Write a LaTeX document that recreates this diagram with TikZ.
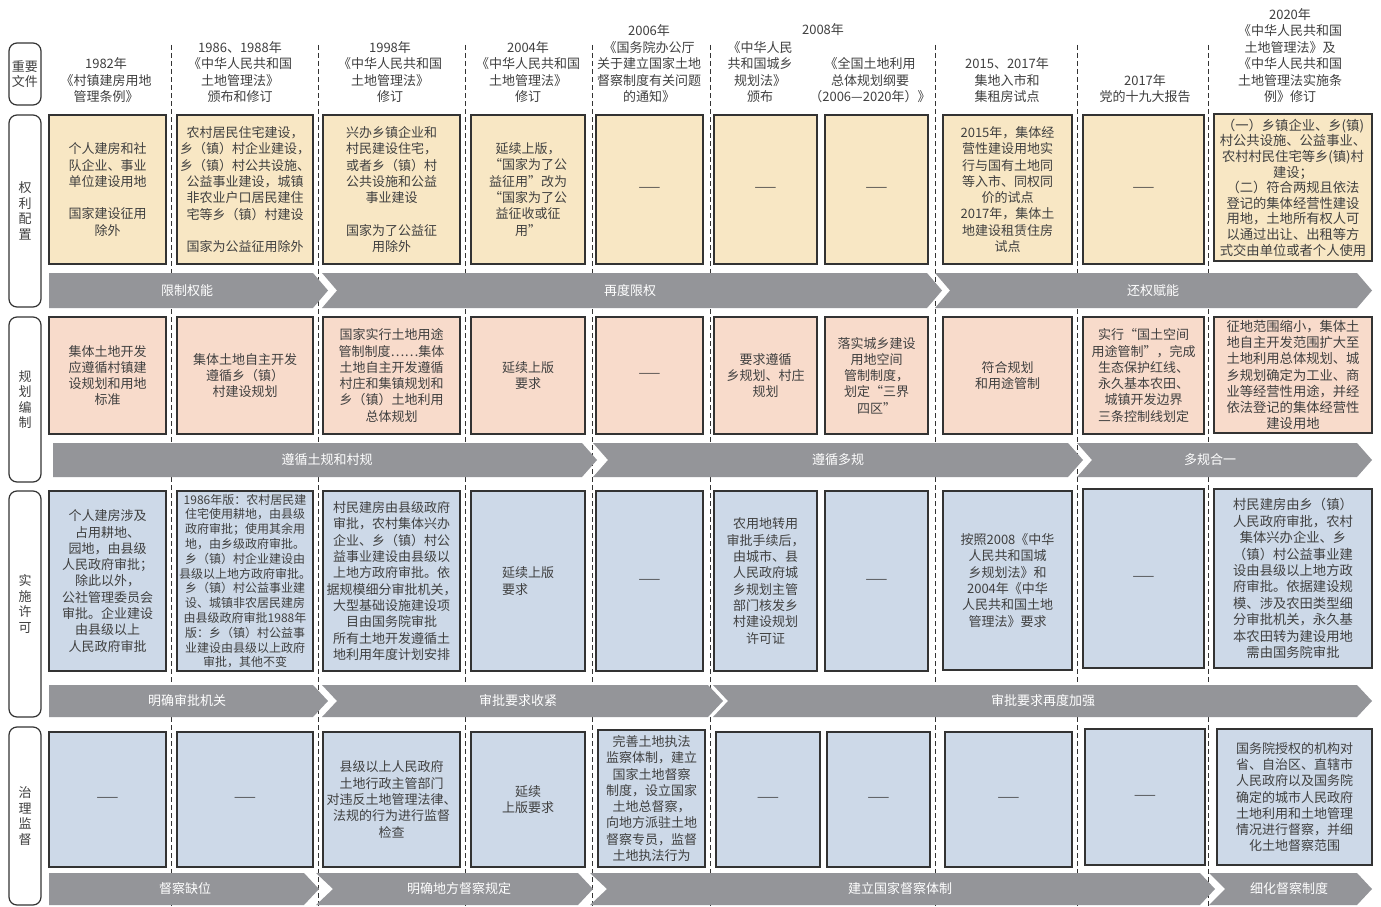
\documentclass[tikz,border=0pt]{standalone}
\usepackage{fontspec}
\setmainfont{Noto Sans CJK SC}
\definecolor{yel}{HTML}{F8E7C4}
\definecolor{pnk}{HTML}{F8DBCB}
\definecolor{blu}{HTML}{CDD9E8}
\definecolor{arrg}{HTML}{949599}
\definecolor{bdr}{HTML}{333333}
\definecolor{txt}{HTML}{404040}
\newcommand\fsz[2]{\fontsize{#1}{#2}\selectfont}
\newcommand\bx[8][]{%
  \pgfmathsetmacro\bxcx{(#3+#5)/2}%
  \pgfmathsetmacro\bxcy{(#4+#6)/2}%
  \pgfmathsetmacro\bxw{#5-#3}%
  \pgfmathsetmacro\bxh{#6-#4}%
  \node[box,fill=#7,minimum width=\bxw pt,minimum height=\bxh pt,#1] (#2) at (\bxcx,\bxcy) {#8};}
\newcommand\arr[8]{%
  \fill[arrg] (#2,#4) -- (#3,#4) -- ({#3+15},{(#4+#5)/2}) -- (#3,#5) -- (#2,#5) -- ({#2+#6},{(#4+#5)/2}) -- cycle;
  \node[arrlabel] (#1) at (#8,{(#4+#5)/2}) {#7};}
\newcommand\side[4]{%
  \pgfmathsetmacro\bxcy{(#2+#3)/2}%
  \pgfmathsetmacro\bxh{#3-#2}%
  \node[sidebox,minimum height=\bxh pt] (#1) at (25,\bxcy) {#4};}
\begin{document}
\begin{tikzpicture}[x=1pt,y=-1pt,
  box/.style={draw=bdr,line width=1.1pt,align=center,inner sep=1pt,text=txt,font=\fsz{13}{16.3}},
  arrlabel/.style={text=white,font=\fsz{13}{16}},
  sidebox/.style={draw=bdr,line width=1.2pt,rounded corners=8pt,minimum width=32pt,align=center,inner sep=0pt,text=txt,font=\fsz{13}{15.5}},
  head/.style={align=center,inner sep=0pt,anchor=south,text=txt,font=\fsz{13}{16.5}},
  dl/.style={draw=bdr,line width=0.9pt,dash pattern=on 5pt off 3pt}]
\fill[white] (0,0) rectangle (1381,907);
\useasboundingbox (0,0) rectangle (1381,907);
% dashed separators (behind everything)
\foreach \xx in {171,318,465,592,710,935,1077,1208}
  \draw[dl] (\xx,45) -- (\xx,907);
% side labels
\side{s0}{43}{105}{重要\\文件}
\side{s1}{115}{307}{权\\利\\配\\置}
\side{s2}{317}{482}{规\\划\\编\\制}
\side{s3}{491}{717}{实\\施\\许\\可}
\side{s4}{727}{905}{治\\理\\监\\督}
% headers
\node[head] (h1) at (106,103) {1982年\\《村镇建房用地\\管理条例》};
\node[head] (h2) at (240,103) {1986、1988年\\《中华人民共和国\\土地管理法》\\颁布和修订};
\node[head] (h3) at (390,103) {1998年\\《中华人民共和国\\土地管理法》\\修订};
\node[head] (h4) at (528,103) {2004年\\《中华人民共和国\\土地管理法》\\修订};
\node[head] (h5) at (649,103) {2006年\\《国务院办公厅\\关于建立国家土地\\督察制度有关问题\\的通知》};
\node[head,anchor=center] (h6y) at (823,30) {2008年};
\node[head] (h6) at (760,103) {《中华人民\\共和国城乡\\规划法》\\颁布};
\node[head] (h7) at (870,103) {《全国土地利用\\总体规划纲要\\（2006—2020年）》};
\node[head] (h8) at (1007,103) {2015、2017年\\集地入市和\\集租房试点};
\node[head] (h9) at (1145,103) {2017年\\党的十九大报告};
\node[head] (h10) at (1290,103) {2020年\\《中华人民共和国\\土地管理法》及\\《中华人民共和国\\土地管理法实施条\\例》修订};
% arrows
\arr{a11}{49}{313}{273}{308}{0}{限制权能}{187}
\arr{a12}{322}{927}{273}{308}{15}{再度限权}{630}
\arr{a13}{935}{1357}{273}{308}{15}{还权赋能}{1153}
\arr{a21}{53}{582}{443}{477}{0}{遵循土规和村规}{327}
\arr{a22}{593}{1068}{443}{477}{15}{遵循多规}{838}
\arr{a23}{1077}{1357}{443}{477}{15}{多规合一}{1210}
\arr{a31}{49}{313}{685}{717}{0}{明确审批机关}{187}
\arr{a32}{322}{708}{685}{717}{15}{审批要求收紧}{518}
\arr{a33}{713}{1357}{685}{717}{15}{审批要求再度加强}{1043}
\arr{a41}{49}{304}{873}{905}{0}{督察缺位}{185}
\arr{a42}{316}{578}{873}{905}{17}{明确地方督察规定}{459}
\arr{a43}{590}{1200}{873}{905}{17}{建立国家督察体制}{900}
\arr{a44}{1209}{1357}{873}{905}{16}{细化督察制度}{1289}
% row 1
\bx{r1c1}{49}{115}{166}{264}{yel}{个人建房和社\\队企业、事业\\单位建设用地\\[16pt]国家建设征用\\除外}
\bx{r1c2}{177}{115}{313}{264}{yel}{农村居民住宅建设，\\乡（镇）村企业建设，\\乡（镇）村公共设施、\\公益事业建设，城镇\\非农业户口居民建住\\宅等乡（镇）村建设\\[16pt]国家为公益征用除外}
\bx{r1c3}{323}{115}{460}{264}{yel}{兴办乡镇企业和\\村民建设住宅，\\或者乡（镇）村\\公共设施和公益\\事业建设\\[16pt]国家为了公益征\\用除外}
\bx{r1c4}{471}{115}{585}{264}{yel}{延续上版，\\“国家为了公\\益征用”改为\\“国家为了公\\益征收或征\\用”}
\bx{r1c5}{596}{115}{703}{264}{yel}{——}
\bx{r1c6}{714}{115}{817}{264}{yel}{——}
\bx{r1c7}{825}{115}{928}{264}{yel}{——}
\bx{r1c8}{943}{115}{1072}{264}{yel}{2015年，集体经\\营性建设用地实\\行与国有土地同\\等入市、同权同\\价的试点\\2017年，集体土\\地建设租赁住房\\试点}
\bx{r1c9}{1083}{115}{1204}{264}{yel}{——}
\bx[font=\fsz{13.3}{15.6},inner sep=0pt]{r1c10}{1214}{114}{1372}{261}{yel}{（一）乡镇企业、乡(镇)\\村公共设施、公益事业、\\农村村民住宅等乡(镇)村\\建设；\\（二）符合两规且依法\\登记的集体经营性建设\\用地，土地所有权人可\\以通过出让、出租等方\\式交由单位或者个人使用}
% row 2
\bx{r2c1}{49}{317}{166}{434}{pnk}{集体土地开发\\应遵循村镇建\\设规划和用地\\标准}
\bx{r2c2}{177}{317}{313}{434}{pnk}{集体土地自主开发\\遵循乡（镇）\\村建设规划}
\bx{r2c3}{323}{317}{460}{434}{pnk}{国家实行土地用途\\管制制度⋯⋯集体\\土地自主开发遵循\\村庄和集镇规划和\\乡（镇）土地利用\\总体规划}
\bx{r2c4}{471}{317}{585}{434}{pnk}{延续上版\\要求}
\bx{r2c5}{596}{317}{703}{434}{pnk}{——}
\bx{r2c6}{714}{317}{817}{434}{pnk}{要求遵循\\乡规划、村庄\\规划}
\bx{r2c7}{825}{317}{928}{434}{pnk}{落实城乡建设\\用地空间\\管制制度，\\划定“三界\\四区”}
\bx{r2c8}{943}{317}{1072}{434}{pnk}{符合规划\\和用途管制}
\bx{r2c9}{1083}{317}{1204}{434}{pnk}{实行“国土空间\\用途管制”，完成\\生态保护红线、\\永久基本农田、\\城镇开发边界\\三条控制线划定}
\bx[font=\fsz{13.3}{16.2},inner sep=0pt]{r2c10}{1214}{317}{1372}{433}{pnk}{征地范围缩小，集体土\\地自主开发范围扩大至\\土地利用总体规划、城\\乡规划确定为工业、商\\业等经营性用途，并经\\依法登记的集体经营性\\建设用地}
% row 3
\bx{r3c1}{49}{491}{166}{671}{blu}{个人建房涉及\\占用耕地、\\园地，由县级\\人民政府审批；\\除此以外，\\公社管理委员会\\审批。企业建设\\由县级以上\\人民政府审批}
\bx[font=\fsz{12}{14.8},inner sep=0pt]{r3c2}{177}{491}{313}{671}{blu}{1986年版：农村居民建\\住宅使用耕地，由县级\\政府审批；使用其余用\\地，由乡级政府审批。\\乡（镇）村企业建设由\\县级以上地方政府审批。\\乡（镇）村公益事业建\\设、城镇非农居民建房\\由县级政府审批1988年\\版：乡（镇）村公益事\\业建设由县级以上政府\\审批，其他不变}
\bx{r3c3}{323}{491}{460}{671}{blu}{村民建房由县级政府\\审批，农村集体兴办\\企业、乡（镇）村公\\益事业建设由县级以\\上地方政府审批。依\\据规模细分审批机关，\\大型基础设施建设项\\目由国务院审批\\所有土地开发遵循土\\地利用年度计划安排}
\bx[align=left]{r3c4}{471}{491}{585}{671}{blu}{延续上版\\要求}
\bx{r3c5}{596}{491}{703}{671}{blu}{——}
\bx{r3c6}{714}{491}{817}{671}{blu}{农用地转用\\审批手续后，\\由城市、县\\人民政府城\\乡规划主管\\部门核发乡\\村建设规划\\许可证}
\bx{r3c7}{825}{491}{928}{671}{blu}{——}
\bx{r3c8}{943}{491}{1072}{670}{blu}{按照2008《中华\\人民共和国城\\乡规划法》和\\2004年《中华\\人民共和国土地\\管理法》要求}
\bx{r3c9}{1083}{489}{1204}{668}{blu}{——}
\bx[font=\fsz{13.3}{16.4}]{r3c10}{1214}{489}{1372}{668}{blu}{村民建房由乡（镇）\\人民政府审批，农村\\集体兴办企业、乡\\（镇）村公益事业建\\设由县级以上地方政\\府审批。依据建设规\\模、涉及农田类型细\\分审批机关，永久基\\本农田转为建设用地\\需由国务院审批}
% row 4
\bx{r4c1}{49}{732}{166}{867}{blu}{——}
\bx{r4c2}{177}{732}{313}{867}{blu}{——}
\bx{r4c3}{323}{732}{460}{867}{blu}{县级以上人民政府\\土地行政主管部门\\对违反土地管理法律、\\法规的行为进行监督\\检查}
\bx{r4c4}{471}{732}{585}{867}{blu}{延续\\上版要求}
\bx[inner sep=0pt]{r4c5}{598}{730}{705}{867}{blu}{完善土地执法\\监察体制，建立\\国家土地督察\\制度，设立国家\\土地总督察，\\向地方派驻土地\\督察专员，监督\\土地执法行为}
\bx{r4c6}{716}{732}{820}{867}{blu}{——}
\bx{r4c7}{827}{732}{930}{867}{blu}{——}
\bx{r4c8}{945}{732}{1072}{867}{blu}{——}
\bx{r4c9}{1085}{729}{1205}{865}{blu}{——}
\bx{r4c10}{1217}{729}{1372}{865}{blu}{国务院授权的机构对\\省、自治区、直辖市\\人民政府以及国务院\\确定的城市人民政府\\土地利用和土地管理\\情况进行督察，并细\\化土地督察范围}
\end{tikzpicture}
\end{document}
